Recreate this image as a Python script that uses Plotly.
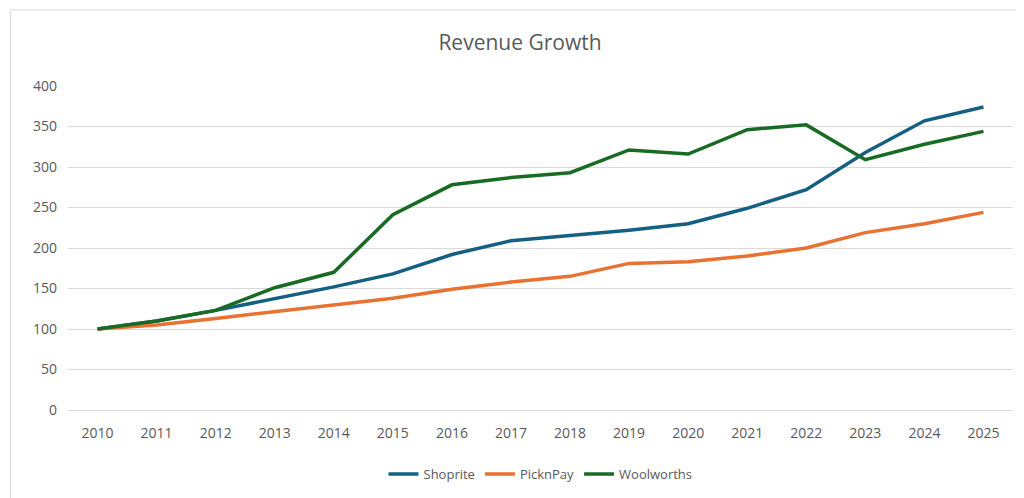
import plotly.graph_objs as go

years = [str(y) for y in range(2010, 2026)]
shoprite = [100, 110, 123, 137, 152, 168, 192, 209, 215, 222, 230, 249, 272, 318, 357, 374]
picknpay = [100, 105, 113, 121, 129, 138, 149, 158, 165, 181, 183, 190, 200, 219, 230, 244]
woolworths = [100, 110, 123, 151, 170, 241, 278, 287, 293, 321, 316, 346, 352, 309, 328, 344]

series = [
    ('Shoprite', shoprite, '#156082'),
    ('PicknPay', picknpay, '#E97132'),
    ('Woolworths', woolworths, '#196B24'),
]

data = [
    go.Scatter(x=years, y=vals, name=name, mode='lines',
               line=dict(color=color, width=3.5))
    for name, vals, color in series
]

layout = go.Layout(
    width=1024, height=498,
    title=dict(text='Revenue Growth', x=0.5, y=0.93, xanchor='center', yanchor='middle',
               font=dict(size=21, color='#595959')),
    font=dict(family='Open Sans, sans-serif', size=14, color='#595959'),
    paper_bgcolor='white', plot_bgcolor='white',
    margin=dict(l=60, r=19, t=78, b=96),
    xaxis=dict(type='category', range=[-0.5, 15.5], showgrid=False, showline=True,
               linecolor='#d9d9d9', ticks='', ticklabelstandoff=10,
               tickfont=dict(size=14)),
    yaxis=dict(range=[0, 400], dtick=50, gridcolor='#d9d9d9', zeroline=False,
               showline=False, ticks='', ticklabelstandoff=10,
               tickfont=dict(size=14)),
    legend=dict(orientation='h', x=0.5, xanchor='center', y=-0.198,
                yanchor='middle', font=dict(size=13)),
    shapes=[dict(type='rect', xref='paper', yref='paper', x0=-0.061, x1=1.017,
                 y0=-0.29, y1=1.235, line=dict(color='#d9d9d9', width=1))],
)

fig = go.Figure(data=data, layout=layout)
fig.write_html('out.html')
